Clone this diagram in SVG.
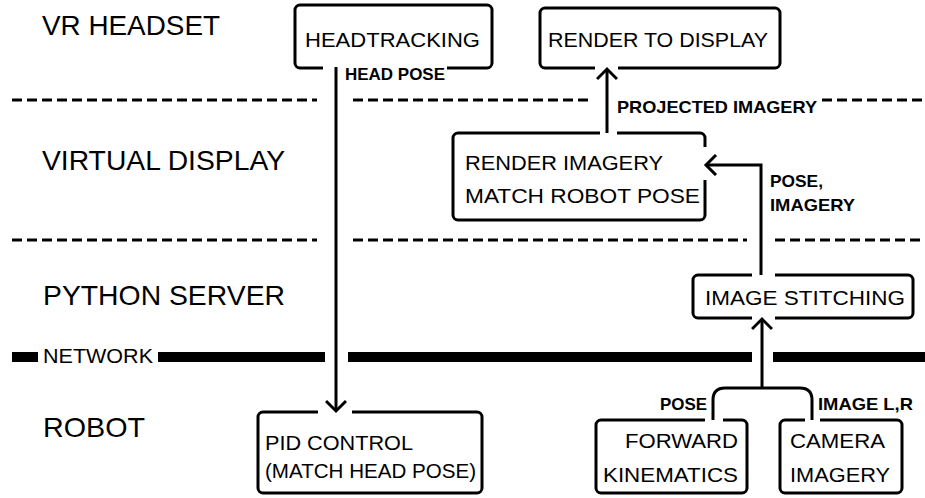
<svg xmlns="http://www.w3.org/2000/svg" width="925" height="498" viewBox="0 0 925 498">
<style>
text{font-family:"Liberation Sans",Arial,sans-serif;fill:#000}
.sec{font-size:28px}
.box{font-size:21px}
.lbl{font-size:17px;font-weight:bold}
.node rect{fill:#fff;stroke:#000;stroke-width:3}
.dash{stroke:#000;stroke-width:3;stroke-dasharray:10 5;fill:none}
.gap{stroke:#fff;stroke-width:6;fill:none}
.conn{stroke:#000;stroke-width:3;fill:none}
</style>
<defs>
<marker id="arr" viewBox="0 0 22 22" refX="19" refY="11" markerWidth="22" markerHeight="22" markerUnits="userSpaceOnUse" orient="auto">
<path d="M9,1 L19,11 L9,21" fill="none" stroke="#000" stroke-width="3"/>
</marker>
</defs>
<rect width="925" height="498" fill="#fff"/>
<g id="lanes">
<text class="sec" x="42" y="35" textLength="178" lengthAdjust="spacingAndGlyphs">VR HEADSET</text>
<text class="sec" x="42" y="170" textLength="243" lengthAdjust="spacingAndGlyphs">VIRTUAL DISPLAY</text>
<text class="sec" x="43" y="305" textLength="242" lengthAdjust="spacingAndGlyphs">PYTHON SERVER</text>
<text class="sec" x="43" y="437" textLength="102" lengthAdjust="spacingAndGlyphs">ROBOT</text>
<path class="dash" d="M12 100H317M353 100H592M822 100H922"/>
<path class="dash" d="M12 240H317M353 240H747M775 240H922"/>
<g fill="#000">
<rect x="12" y="352" width="26" height="10"/>
<rect x="158" y="352" width="167" height="10"/>
<rect x="348" y="352" width="404" height="10"/>
<rect x="773" y="352" width="152" height="10"/>
</g>
<text class="box" x="43" y="363" textLength="110" lengthAdjust="spacingAndGlyphs">NETWORK</text>
</g>
<g id="headtracking" class="node">
<rect x="295" y="5" width="197" height="63" rx="5"/>
<text class="box" x="305" y="47" textLength="175" lengthAdjust="spacingAndGlyphs">HEADTRACKING</text>
</g>
<g id="render-display" class="node">
<rect x="540" y="8" width="240" height="60" rx="5"/>
<text class="box" x="548" y="47" textLength="220" lengthAdjust="spacingAndGlyphs">RENDER TO DISPLAY</text>
</g>
<g id="render-imagery" class="node">
<rect x="453" y="133" width="252" height="87" rx="5"/>
<text class="box" x="465" y="170" textLength="198" lengthAdjust="spacingAndGlyphs">RENDER IMAGERY</text>
<text class="box" x="465" y="203" textLength="235" lengthAdjust="spacingAndGlyphs">MATCH ROBOT POSE</text>
</g>
<g id="image-stitching" class="node">
<rect x="693" y="275" width="220" height="43" rx="5"/>
<text class="box" x="705" y="305" textLength="200" lengthAdjust="spacingAndGlyphs">IMAGE STITCHING</text>
</g>
<g id="pid" class="node">
<rect x="258" y="412" width="224" height="81" rx="5"/>
<text class="box" x="265" y="450" textLength="148" lengthAdjust="spacingAndGlyphs">PID CONTROL</text>
<text class="box" x="265" y="478" textLength="211" lengthAdjust="spacingAndGlyphs">(MATCH HEAD POSE)</text>
</g>
<g id="fk" class="node">
<rect x="596" y="420" width="151" height="73" rx="5"/>
<text class="box" x="738" y="448" text-anchor="end" textLength="113" lengthAdjust="spacingAndGlyphs">FORWARD</text>
<text class="box" x="738" y="482" text-anchor="end" textLength="135" lengthAdjust="spacingAndGlyphs">KINEMATICS</text>
</g>
<g id="camera" class="node">
<rect x="780" y="420" width="122" height="73" rx="5"/>
<text class="box" x="790" y="448" textLength="95" lengthAdjust="spacingAndGlyphs">CAMERA</text>
<text class="box" x="790" y="482" textLength="100" lengthAdjust="spacingAndGlyphs">IMAGERY</text>
</g>
<g id="connectors">
<rect x="323" y="60" width="124" height="16" fill="#fff"/>
<path class="gap" d="M595 68H618M600 133H617M705 147V180M318 412H352M752 275H775M752 318H775M705 420H723M805 420H820"/>
<path class="conn" d="M336 67V411" marker-end="url(#arr)"/>
<text class="lbl" x="345" y="80" textLength="100" lengthAdjust="spacingAndGlyphs">HEAD POSE</text>
<path class="conn" d="M607 133V69" marker-end="url(#arr)"/>
<text class="lbl" x="617" y="113" textLength="200" lengthAdjust="spacingAndGlyphs">PROJECTED IMAGERY</text>
<path class="conn" d="M761 275V165H706" marker-end="url(#arr)"/>
<text class="lbl" x="770" y="187" textLength="53" lengthAdjust="spacingAndGlyphs">POSE,</text>
<text class="lbl" x="770" y="211" textLength="85" lengthAdjust="spacingAndGlyphs">IMAGERY</text>
<path class="conn" d="M713 420V400Q713 388 725 388H800Q812 388 812 400V420"/>
<path class="conn" d="M762 388V319" marker-end="url(#arr)"/>
<text class="lbl" x="707" y="410" text-anchor="end" textLength="47" lengthAdjust="spacingAndGlyphs">POSE</text>
<text class="lbl" x="818" y="410" textLength="95" lengthAdjust="spacingAndGlyphs">IMAGE L,R</text>
</g>
</svg>
